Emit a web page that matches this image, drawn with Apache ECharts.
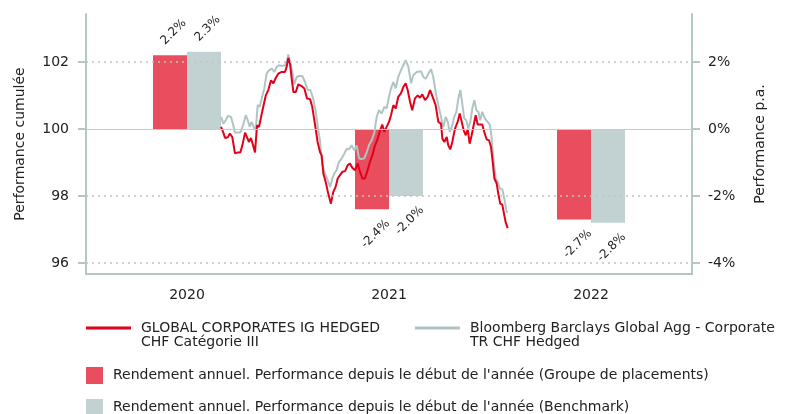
<!DOCTYPE html>
<html>
<head>
<meta charset="utf-8">
<script src="https://cdn.jsdelivr.net/npm/echarts@6/dist/echarts.min.js"></script>
<style>
  html, body { margin: 0; padding: 0; background: #fff; }
  #main { width: 788px; height: 414px; }
</style>
</head>
<body>
<div id="main"></div>
<script>
// categories and yearly bars (% p.a.)
const years = ['2020', '2021', '2022']
const fundYtd = [2.2, -2.4, -2.7]
const benchYtd = [2.3, -2.0, -2.8]
const leftTicks = [96, 98, 100, 102]
const rightTicks = [-4, -2, 0, 2]

// cumulated performance, x = months since 01.01.2020
const fundT = [8.02, 8.16, 8.26, 8.42, 8.55, 8.69, 8.85, 9.01, 9.17, 9.29, 9.45, 9.56, 9.68, 9.80, 9.90,
  10.04, 10.16, 10.28, 10.40, 10.53, 10.68, 10.83, 10.99, 11.13, 11.27, 11.42, 11.63, 11.82, 11.92,
  12.02, 12.12, 12.22, 12.32, 12.46, 12.61, 12.81, 12.97, 13.13, 13.31, 13.44, 13.60, 13.76, 13.90,
  14.00, 14.10, 14.24, 14.39, 14.55, 14.69, 14.83, 14.95, 15.09, 15.23, 15.39, 15.55, 15.68, 15.82, 15.98,
  16.14, 16.28, 16.42, 16.57, 16.73, 16.87, 17.01, 17.17, 17.33, 17.47, 17.60, 17.72, 17.86,
  18.00, 18.12, 18.26, 18.40, 18.55, 18.71, 18.85, 18.99, 19.11, 19.25, 19.38, 19.54, 19.71, 19.84, 19.98,
  20.14, 20.30, 20.44, 20.54, 20.63, 20.77, 20.93, 21.09, 21.17, 21.29, 21.43, 21.52, 21.64, 21.76, 21.92,
  22.08, 22.20, 22.32, 22.44, 22.56, 22.68, 22.79, 22.91, 23.03, 23.15, 23.27, 23.41, 23.54, 23.66, 23.80, 23.94,
  24.06, 24.16, 24.26, 24.40, 24.49, 24.61, 24.73, 24.85, 24.93, 25.05]
const fundV = [100.06, 99.89, 99.73, 99.75, 99.86, 99.76, 99.27, 99.30, 99.30, 99.51, 99.89, 99.93, 99.61, 99.73, 99.56,
  99.30, 100.11, 100.06, 100.36, 100.66, 101.00, 101.16, 101.45, 101.36, 101.52, 101.65, 101.70, 101.70, 101.85,
  102.12, 101.95, 101.50, 101.10, 101.10, 101.33, 101.28, 101.21, 100.91, 100.89, 100.66, 100.15, 99.61, 99.31,
  99.21, 98.67, 98.42, 98.07, 97.77, 98.12, 98.27, 98.52, 98.62, 98.72, 98.74, 98.92, 98.97, 98.84, 98.77,
  98.97, 98.72, 98.52, 98.52, 98.77, 99.02, 99.21, 99.51, 99.71, 99.96, 100.13, 99.91, 100.06,
  100.21, 100.41, 100.71, 100.61, 100.96, 101.06, 101.25, 101.36, 101.16, 100.81, 100.56, 100.91, 101.00, 100.93, 101.03,
  100.86, 100.96, 101.16, 101.03, 101.03, 100.71, 100.21, 100.16, 99.71, 99.61, 99.76, 99.51, 99.39, 99.61, 100.01,
  100.21, 100.46, 100.21, 99.96, 99.81, 99.99, 99.56, 99.81, 100.11, 100.41, 100.13, 100.13, 100.13, 99.91, 99.69, 99.66,
  99.46, 99.02, 98.52, 98.37, 98.07, 97.77, 97.74, 97.42, 97.22, 97.04]

const benchT = [8.02, 8.16, 8.30, 8.45, 8.61, 8.75, 8.85, 9.01, 9.17, 9.33, 9.49, 9.61, 9.73, 9.84, 9.96,
  10.08, 10.20, 10.32, 10.44, 10.59, 10.73, 10.87, 11.03, 11.19, 11.33, 11.47, 11.63, 11.82, 11.92,
  12.02, 12.12, 12.26, 12.37, 12.52, 12.65, 12.85, 13.01, 13.17, 13.33, 13.49, 13.64, 13.80, 13.90,
  14.04, 14.20, 14.36, 14.50, 14.63, 14.75, 14.89, 15.03, 15.19, 15.35, 15.49, 15.62, 15.78, 15.94,
  16.08, 16.22, 16.38, 16.53, 16.68, 16.81, 16.97, 17.13, 17.27, 17.41, 17.57, 17.72, 17.86,
  18.00, 18.12, 18.26, 18.40, 18.55, 18.71, 18.85, 18.99, 19.15, 19.31, 19.44, 19.65, 19.76, 19.90,
  20.04, 20.18, 20.34, 20.50, 20.63, 20.77, 20.93, 21.09, 21.23, 21.37, 21.49, 21.61, 21.73, 21.88,
  22.00, 22.12, 22.24, 22.35, 22.47, 22.59, 22.71, 22.83, 22.95, 23.07, 23.19, 23.31, 23.42, 23.54, 23.70, 23.86,
  24.00, 24.10, 24.20, 24.34, 24.46, 24.59, 24.73, 24.85, 24.99, 25.05]
const benchV = [100.36, 100.16, 100.26, 100.39, 100.36, 100.11, 99.89, 99.89, 99.89, 100.11, 100.41, 100.26, 100.06, 100.21, 100.06,
  99.96, 100.71, 100.66, 100.91, 101.21, 101.65, 101.75, 101.80, 101.70, 101.85, 101.90, 101.88, 101.90, 102.00,
  102.22, 102.20, 101.70, 101.33, 101.55, 101.58, 101.58, 101.40, 101.16, 101.16, 100.91, 100.55, 99.96, 99.66,
  98.92, 98.67, 98.47, 98.27, 98.52, 98.67, 98.77, 99.02, 99.12, 99.27, 99.41, 99.39, 99.51, 99.36,
  99.51, 99.12, 99.10, 99.12, 99.31, 99.51, 99.66, 99.89, 100.36, 100.56, 100.46, 100.66, 100.61,
  100.96, 101.21, 101.40, 101.21, 101.55, 101.75, 101.90, 102.05, 101.85, 101.36, 101.60, 101.70, 101.65, 101.72,
  101.55, 101.50, 101.65, 101.78, 101.55, 101.10, 100.71, 100.36, 100.06, 100.36, 100.21, 99.91, 100.06, 100.36,
  100.51, 100.91, 101.16, 100.76, 100.31, 100.26, 100.01, 100.21, 100.61, 100.86, 100.56, 100.51, 100.26, 100.51, 100.31, 100.21,
  100.11, 99.71, 99.12, 98.52, 98.42, 98.22, 98.20, 97.92, 97.52, 97.50]

const FONT = 'DejaVu Sans'
const AXIS_COLOR = '#b4c6c6'
const TEXT_COLOR = '#222222'
const RED_BAR = '#e84e5e'
const GREY_BAR = '#c2d1d1'
const RED_LINE = '#e2001a'
const GREY_LINE = '#b0c4c4'

// blank first line keeps the line icon level with the first text line
const legendNames = {
  fund: ' \nGLOBAL CORPORATES IG HEDGED\nCHF Catégorie III',
  bench: ' \nBloomberg Barclays Global Agg - Corporate\nTR CHF Hedged',
  fundBar: "Rendement annuel. Performance depuis le début de l'année (Groupe de placements)",
  benchBar: "Rendement annuel. Performance depuis le début de l'année (Benchmark)"
}

const chart = echarts.init(document.getElementById('main'))

function pairs (t, v) {
  return t.map((x, i) => [x, v[i]])
}

function legendBox (name, left, top, w, h) {
  return {
    data: [name],
    left: left,
    top: top,
    padding: 0,
    icon: 'rect',
    itemWidth: w,
    itemHeight: h,
    selectedMode: false,
    formatter: n => legendNames[n],
    textStyle: {
      fontFamily: FONT,
      fontSize: 14,
      color: TEXT_COLOR,
      lineHeight: 14,
      padding: [0, 0, 0, 5]
    }
  }
}

const barLabel = {
  show: true,
  position: 'outside',
  distance: 24,
  offset: [2, 3],
  rotate: 45,
  align: 'center',
  verticalAlign: 'middle',
  fontFamily: FONT,
  fontSize: 12,
  color: TEXT_COLOR,
  formatter: p => p.value.toFixed(1) + '%'
}

chart.setOption({
  animation: false,
  backgroundColor: '#ffffff',
  grid: { left: 86, right: 96, top: 14, bottom: 140 },
  legend: [
    legendBox('fund', 86, 307, 45, 3),
    legendBox('bench', 415, 307, 45, 3),
    legendBox('fundBar', 86, 367, 17, 17),
    legendBox('benchBar', 86, 399, 17, 17)
  ],
  xAxis: [{
    type: 'category',
    data: years,
    axisLine: { onZero: false, lineStyle: { color: AXIS_COLOR, width: 2 } },
    axisTick: { length: 8, lineStyle: { color: AXIS_COLOR, width: 2 } },
    axisLabel: { margin: 14, fontFamily: FONT, fontSize: 14, color: TEXT_COLOR },
    splitLine: { show: false }
  }, {
    type: 'value',
    min: 0,
    max: 36,
    show: false
  }],
  yAxis: [{
    type: 'value',
    position: 'left',
    min: 95.67,
    max: 103.43,
    name: 'Performance cumulée',
    nameLocation: 'middle',
    nameGap: 59,
    nameTextStyle: { fontFamily: FONT, fontSize: 14, color: TEXT_COLOR },
    axisLine: { show: true, onZero: false, lineStyle: { color: AXIS_COLOR, width: 2 } },
    axisTick: { show: true, length: 8, customValues: leftTicks, lineStyle: { color: AXIS_COLOR, width: 2 } },
    axisLabel: { customValues: leftTicks, margin: 17, fontFamily: FONT, fontSize: 14, color: TEXT_COLOR },
    splitLine: { show: false }
  }, {
    type: 'value',
    position: 'right',
    min: -4.33,
    max: 3.43,
    name: 'Performance p.a.',
    nameLocation: 'middle',
    nameGap: 61,
    nameTextStyle: { fontFamily: FONT, fontSize: 14, color: TEXT_COLOR },
    axisLine: { show: true, onZero: false, lineStyle: { color: AXIS_COLOR, width: 2 } },
    axisTick: { show: true, length: 8, customValues: rightTicks, lineStyle: { color: AXIS_COLOR, width: 2 } },
    axisLabel: {
      customValues: rightTicks,
      margin: 16,
      fontFamily: FONT,
      fontSize: 14,
      color: TEXT_COLOR,
      formatter: v => v + '%'
    },
    splitLine: { show: false }
  }],
  series: [{
    // horizontal grid lines, drawn beneath the bars
    name: 'grid',
    type: 'line',
    xAxisIndex: 0,
    yAxisIndex: 1,
    data: [],
    z: 1,
    silent: true,
    markLine: {
      silent: true,
      symbol: 'none',
      label: { show: false },
      data: rightTicks.map(v => ({
        yAxis: v,
        lineStyle: v === 0
          ? { type: 'solid', color: '#c9c9c9', width: 1 }
          : { type: [2, 4], color: '#b9c6c6', width: 1.5 }
      }))
    }
  }, {
    name: 'fundBar',
    type: 'bar',
    xAxisIndex: 0,
    yAxisIndex: 1,
    data: fundYtd,
    color: RED_BAR,
    barWidth: 34,
    barGap: '0%',
    z: 2,
    label: barLabel
  }, {
    name: 'benchBar',
    type: 'bar',
    xAxisIndex: 0,
    yAxisIndex: 1,
    data: benchYtd,
    color: GREY_BAR,
    barWidth: 34,
    barGap: '0%',
    z: 2,
    label: barLabel
  }, {
    name: 'bench',
    type: 'line',
    xAxisIndex: 1,
    yAxisIndex: 0,
    data: pairs(benchT, benchV),
    color: GREY_LINE,
    showSymbol: false,
    lineStyle: { width: 2 },
    z: 3
  }, {
    name: 'fund',
    type: 'line',
    xAxisIndex: 1,
    yAxisIndex: 0,
    data: pairs(fundT, fundV),
    color: RED_LINE,
    showSymbol: false,
    lineStyle: { width: 2 },
    z: 4
  }]
})
</script>
</body>
</html>
